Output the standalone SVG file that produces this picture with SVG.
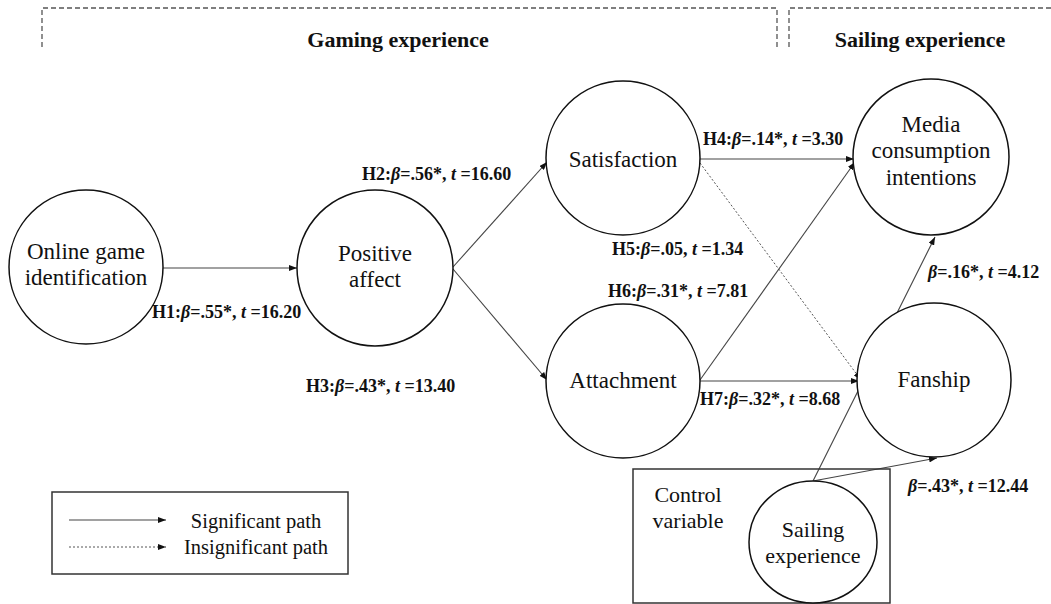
<svg xmlns="http://www.w3.org/2000/svg" width="1051" height="604" viewBox="0 0 1051 604" font-family="Liberation Serif, serif">
<style>
text{font-family:'Liberation Serif','Times New Roman',serif;fill:#111}
.node{fill:#fff;stroke:#111;stroke-width:1.5}
.nt{font-family:'Liberation Serif','Times New Roman',serif;font-size:23px;text-anchor:middle}
.lb{font-family:'Liberation Serif','Times New Roman',serif;font-size:18px;font-weight:bold}
.hd{font-family:'Liberation Serif','Times New Roman',serif;font-size:22px;font-weight:bold;text-anchor:middle}
.lg{font-family:'Liberation Serif','Times New Roman',serif;font-size:20.5px;text-anchor:middle}
.ln{stroke:#444;stroke-width:1.1;fill:none}
.dot{stroke:#555;stroke-width:1;stroke-dasharray:2 2;fill:none}
.br{stroke:#555;stroke-width:1.3;stroke-dasharray:5 3;fill:none}
.box{fill:none;stroke:#333;stroke-width:1.5}
</style>
<defs>
<marker id="ah" markerUnits="userSpaceOnUse" markerWidth="8" markerHeight="6" refX="8" refY="3" orient="auto">
<path d="M0,0 L8,3 L0,6 z" fill="#111"/>
</marker>
</defs>

<g id="headers">
<path class="br" d="M42,47 V8 H777 V47"/>
<path class="br" d="M789,47 V8 H1051"/>
<text class="hd" x="398" y="47">Gaming experience</text>
<text class="hd" x="920" y="47">Sailing experience</text>
</g>

<g id="connectors">
<line class="ln" x1="163" y1="268" x2="297" y2="268" marker-end="url(#ah)"/>
<line class="ln" x1="453" y1="267" x2="547" y2="162" marker-end="url(#ah)"/>
<line class="ln" x1="453" y1="269" x2="547" y2="380" marker-end="url(#ah)"/>
<line class="ln" x1="700" y1="159" x2="854" y2="159" marker-end="url(#ah)"/>
<line class="dot" x1="700" y1="163" x2="861" y2="380" marker-end="url(#ah)"/>
<line class="ln" x1="700" y1="380" x2="855" y2="162" marker-end="url(#ah)"/>
<line class="ln" x1="700" y1="381" x2="859" y2="381" marker-end="url(#ah)"/>
<line class="ln" x1="813" y1="481" x2="935" y2="237" marker-end="url(#ah)"/>
<line class="ln" x1="813" y1="481" x2="937" y2="458" marker-end="url(#ah)"/>
</g>

<g id="online-game-identification">
<circle class="node" cx="86" cy="267" r="77"/>
<text class="nt" x="86" y="259">Online game</text>
<text class="nt" x="86" y="285">identification</text>
</g>
<g id="positive-affect">
<circle class="node" cx="375" cy="268" r="78"/>
<text class="nt" x="375" y="261">Positive</text>
<text class="nt" x="375" y="287">affect</text>
</g>
<g id="satisfaction">
<circle class="node" cx="623" cy="158" r="77"/>
<text class="nt" x="623" y="167">Satisfaction</text>
</g>
<g id="attachment">
<circle class="node" cx="623" cy="381" r="77"/>
<text class="nt" x="623" y="388">Attachment</text>
</g>
<g id="media-consumption-intentions">
<circle class="node" cx="931" cy="157" r="78"/>
<text class="nt" x="931" y="132">Media</text>
<text class="nt" x="931" y="158">consumption</text>
<text class="nt" x="931" y="185">intentions</text>
</g>
<g id="fanship">
<circle class="node" cx="934" cy="380" r="77"/>
<text class="nt" x="934" y="387">Fanship</text>
</g>
<g id="control-variable">
<rect class="box" x="633" y="469" width="257" height="134"/>
<text class="nt" x="688" y="502" style="font-size:22px">Control</text>
<text class="nt" x="688" y="528" style="font-size:22px">variable</text>
</g>
<g id="sailing-experience">
<ellipse class="node" cx="813" cy="542" rx="64" ry="61"/>
<text class="nt" x="813" y="537" style="font-size:22px">Sailing</text>
<text class="nt" x="813" y="563" style="font-size:22px">experience</text>
</g>

<g id="labels">
<text class="lb" x="152" y="318">H1:<tspan font-style="italic">β</tspan>=.55*, <tspan font-style="italic">t</tspan> =16.20</text>
<text class="lb" x="362" y="180">H2:<tspan font-style="italic">β</tspan>=.56*, <tspan font-style="italic">t</tspan> =16.60</text>
<text class="lb" x="306" y="392">H3:<tspan font-style="italic">β</tspan>=.43*, <tspan font-style="italic">t</tspan> =13.40</text>
<text class="lb" x="703" y="145">H4:<tspan font-style="italic">β</tspan>=.14*, <tspan font-style="italic">t</tspan> =3.30</text>
<text class="lb" x="612" y="255">H5:<tspan font-style="italic">β</tspan>=.05, <tspan font-style="italic">t</tspan> =1.34</text>
<text class="lb" x="608" y="297">H6:<tspan font-style="italic">β</tspan>=.31*, <tspan font-style="italic">t</tspan> =7.81</text>
<text class="lb" x="700" y="405">H7:<tspan font-style="italic">β</tspan>=.32*, <tspan font-style="italic">t</tspan> =8.68</text>
<text class="lb" x="928" y="278"><tspan font-style="italic">β</tspan>=.16*, <tspan font-style="italic">t</tspan> =4.12</text>
<text class="lb" x="908" y="492"><tspan font-style="italic">β</tspan>=.43*, <tspan font-style="italic">t</tspan> =12.44</text>
</g>

<g id="legend">
<rect class="box" x="52" y="492" width="296" height="82"/>
<line class="ln" x1="69" y1="520" x2="166" y2="520" marker-end="url(#ah)"/>
<line class="dot" x1="69" y1="547" x2="166" y2="547" marker-end="url(#ah)"/>
<text class="lg" x="256" y="528">Significant path</text>
<text class="lg" x="256" y="554">Insignificant path</text>
</g>
</svg>
